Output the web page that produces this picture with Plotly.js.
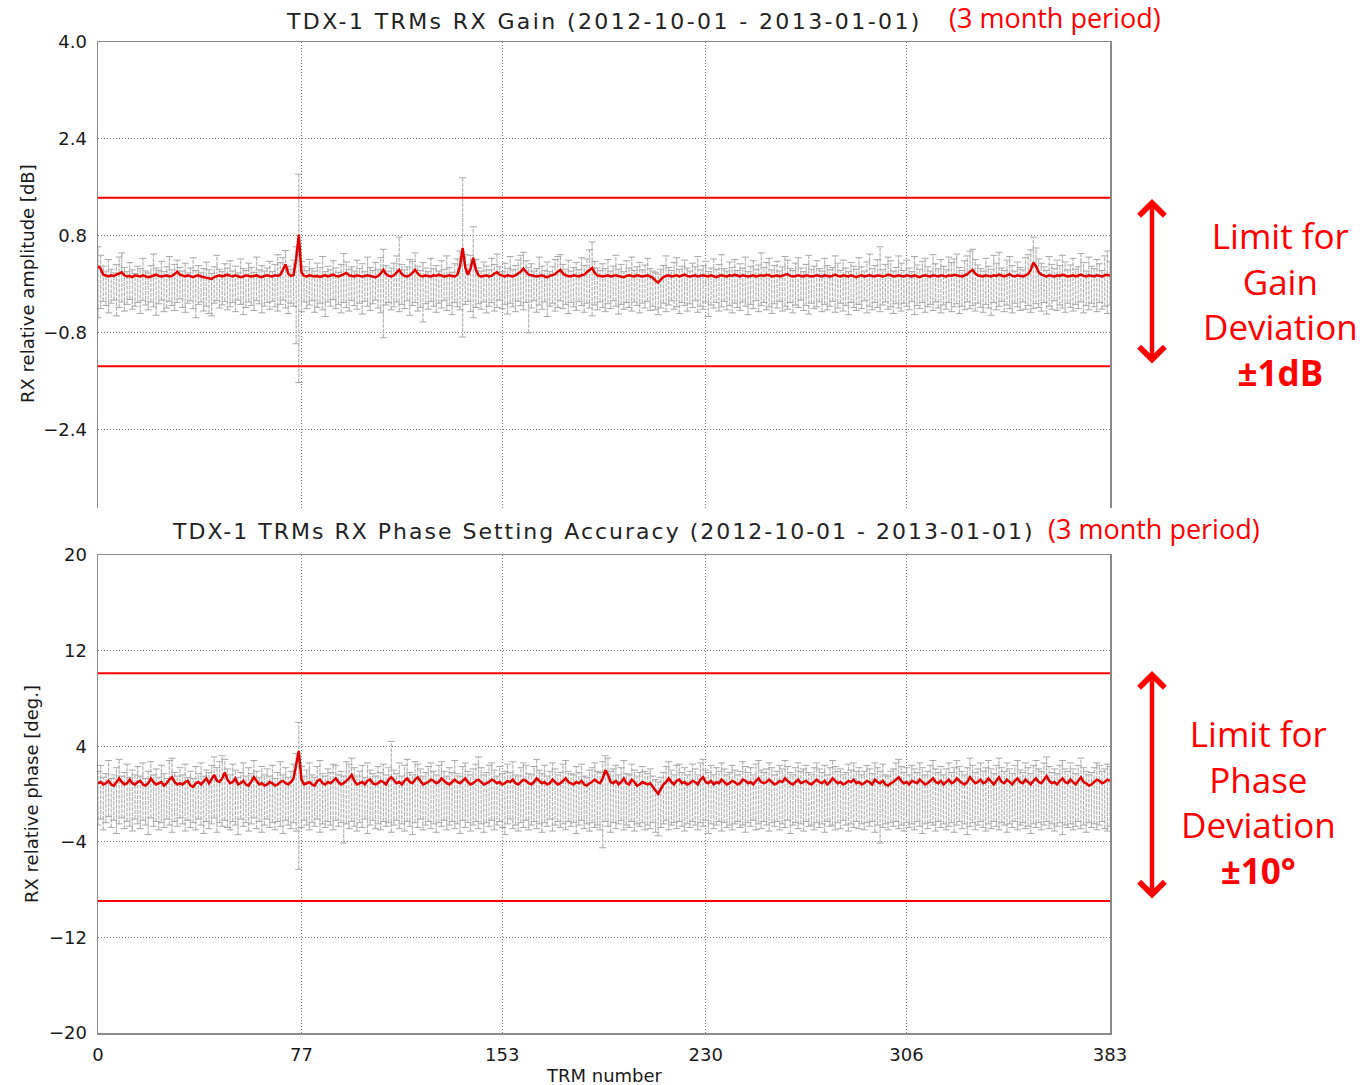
<!DOCTYPE html>
<html><head><meta charset="utf-8">
<script src="https://cdn.plot.ly/plotly-3.0.1.min.js"></script>
<style>
html,body{margin:0;padding:0;background:#fff;}
#chart{width:1360px;height:1085px;}
text.annotation-text[style*="rgb(34, 34, 34)"]{letter-spacing:2.4px;}
text.annotation-text[style*="rgb(35, 35, 35)"]{letter-spacing:2.0px;}
</style></head><body><div id="chart"></div>
<script>
const trmTicks=[0,77,153,230,306,383];
const gainTicks=[4.0,2.4,0.8,-0.8,-2.4];
const gainTickText=["4.0","2.4","0.8","−0.8","−2.4"];
const phaseTicks=[20,12,4,-4,-12,-20];
const phaseTickText=["20","12","4","−4","−12","−20"];
const gainLimits=[1.43,-1.35];
const phaseLimits=[10.1,-8.95];

const gainMean=[
0.30,0.26,0.16,0.14,0.13,0.15,0.14,0.16,0.18,0.20,0.15,0.13,0.14,0.12,0.15,0.14,
0.13,0.15,0.14,0.12,0.13,0.15,0.16,0.14,0.13,0.14,0.15,0.13,0.14,0.17,0.21,0.16,
0.14,0.13,0.15,0.14,0.12,0.14,0.15,0.13,0.12,0.11,0.10,0.09,0.12,0.14,0.15,0.13,
0.14,0.16,0.14,0.13,0.15,0.14,0.12,0.13,0.15,0.14,0.13,0.14,0.15,0.13,0.12,0.14,
0.15,0.14,0.13,0.15,0.14,0.16,0.24,0.33,0.18,0.14,0.15,0.42,0.82,0.20,0.14,0.13,
0.15,0.14,0.13,0.14,0.12,0.14,0.15,0.13,0.14,0.16,0.14,0.13,0.15,0.17,0.19,0.15,
0.14,0.13,0.15,0.14,0.13,0.14,0.15,0.14,0.13,0.12,0.14,0.18,0.24,0.17,0.14,0.13,
0.15,0.19,0.24,0.17,0.14,0.13,0.15,0.19,0.24,0.18,0.14,0.13,0.15,0.14,0.13,0.15,
0.14,0.16,0.15,0.13,0.14,0.15,0.14,0.13,0.16,0.30,0.60,0.28,0.16,0.26,0.44,0.24,
0.15,0.13,0.14,0.15,0.13,0.14,0.18,0.20,0.16,0.14,0.13,0.15,0.14,0.13,0.15,0.18,
0.21,0.26,0.20,0.16,0.15,0.14,0.13,0.14,0.15,0.13,0.12,0.14,0.15,0.17,0.21,0.24,
0.18,0.15,0.14,0.13,0.15,0.14,0.13,0.15,0.16,0.20,0.24,0.27,0.19,0.15,0.14,0.13,
0.14,0.15,0.13,0.14,0.15,0.14,0.13,0.12,0.14,0.15,0.14,0.13,0.15,0.14,0.13,0.14,
0.15,0.13,0.11,0.06,0.03,0.08,0.12,0.14,0.15,0.13,0.14,0.15,0.13,0.14,0.16,0.14,
0.13,0.14,0.15,0.13,0.14,0.15,0.14,0.13,0.15,0.14,0.12,0.14,0.15,0.14,0.13,0.15,
0.14,0.16,0.14,0.13,0.15,0.14,0.13,0.14,0.15,0.13,0.14,0.15,0.14,0.16,0.15,0.13,
0.14,0.15,0.13,0.14,0.15,0.17,0.14,0.13,0.14,0.15,0.14,0.13,0.15,0.14,0.13,0.14,
0.15,0.14,0.13,0.15,0.14,0.13,0.14,0.16,0.14,0.13,0.15,0.14,0.13,0.15,0.14,0.12,
0.14,0.15,0.13,0.14,0.15,0.14,0.13,0.15,0.14,0.13,0.14,0.16,0.15,0.13,0.14,0.15,
0.14,0.13,0.15,0.14,0.13,0.15,0.14,0.12,0.14,0.15,0.14,0.13,0.15,0.14,0.13,0.15,
0.14,0.13,0.15,0.14,0.16,0.15,0.14,0.13,0.15,0.17,0.21,0.24,0.18,0.15,0.14,0.13,
0.15,0.14,0.13,0.15,0.14,0.16,0.14,0.13,0.15,0.17,0.14,0.13,0.15,0.14,0.13,0.15,
0.17,0.24,0.36,0.30,0.20,0.16,0.14,0.13,0.15,0.14,0.13,0.15,0.14,0.16,0.15,0.13,
0.14,0.15,0.13,0.14,0.16,0.14,0.13,0.15,0.14,0.13,0.15,0.14,0.13,0.15,0.16,0.14];

const gainHi=[
0.62,0.48,0.30,0.22,0.41,0.25,0.19,0.33,0.45,0.52,0.28,0.21,0.36,0.24,0.18,0.30,
0.26,0.43,0.22,0.19,0.31,0.50,0.27,0.23,0.38,0.21,0.29,0.46,0.24,0.33,0.40,0.28,
0.22,0.35,0.19,0.27,0.44,0.23,0.31,0.20,0.26,0.37,0.24,0.18,0.29,0.48,0.25,0.21,
0.34,0.27,0.39,0.22,0.30,0.19,0.42,0.26,0.23,0.35,0.28,0.20,0.45,0.24,0.31,0.22,
0.27,0.38,0.21,0.33,0.49,0.36,0.44,0.56,0.30,0.25,0.40,0.62,1.82,0.38,0.29,0.23,
0.41,0.26,0.22,0.35,0.28,0.46,0.21,0.30,0.24,0.39,0.27,0.20,0.33,0.51,0.37,0.25,
0.29,0.22,0.40,0.26,0.34,0.21,0.45,0.28,0.23,0.36,0.25,0.44,0.58,0.31,0.22,0.27,
0.35,0.47,0.78,0.33,0.24,0.29,0.41,0.38,0.52,0.30,0.23,0.36,0.27,0.21,0.43,0.26,
0.31,0.22,0.39,0.25,0.47,0.28,0.20,0.34,0.42,0.55,1.76,0.49,0.32,0.48,0.95,0.41,
0.27,0.22,0.37,0.30,0.24,0.43,0.33,0.50,0.29,0.21,0.35,0.26,0.46,0.24,0.31,0.40,
0.48,0.53,0.39,0.28,0.34,0.22,0.26,0.45,0.30,0.23,0.37,0.21,0.29,0.41,0.46,0.49,
0.33,0.25,0.40,0.22,0.28,0.36,0.24,0.44,0.31,0.42,0.57,0.70,0.38,0.27,0.23,0.34,
0.26,0.41,0.22,0.30,0.48,0.25,0.33,0.21,0.39,0.27,0.45,0.23,0.29,0.36,0.24,0.32,
0.43,0.26,0.22,0.20,0.17,0.25,0.31,0.47,0.28,0.23,0.36,0.44,0.25,0.30,0.40,0.27,
0.22,0.35,0.29,0.46,0.24,0.31,0.38,0.21,0.27,0.42,0.25,0.33,0.49,0.26,0.22,0.37,
0.28,0.41,0.23,0.34,0.27,0.45,0.21,0.30,0.39,0.25,0.32,0.52,0.28,0.36,0.43,0.24,
0.31,0.38,0.22,0.29,0.46,0.40,0.26,0.23,0.35,0.44,0.27,0.21,0.33,0.48,0.25,0.30,
0.39,0.26,0.22,0.43,0.31,0.24,0.28,0.47,0.35,0.23,0.40,0.27,0.21,0.36,0.30,0.25,
0.44,0.29,0.22,0.37,0.50,0.26,0.31,0.41,0.62,0.24,0.33,0.45,0.39,0.22,0.28,0.47,
0.35,0.23,0.40,0.27,0.21,0.46,0.32,0.25,0.38,0.43,0.29,0.22,0.49,0.34,0.26,0.41,
0.30,0.24,0.45,0.36,0.42,0.50,0.28,0.23,0.39,0.47,0.55,0.58,0.41,0.32,0.26,0.22,
0.43,0.30,0.25,0.48,0.35,0.53,0.27,0.23,0.40,0.46,0.31,0.22,0.37,0.28,0.24,0.44,
0.49,0.57,0.78,0.60,0.42,0.35,0.29,0.23,0.46,0.33,0.26,0.40,0.31,0.48,0.37,0.24,
0.32,0.43,0.25,0.29,0.51,0.36,0.22,0.45,0.30,0.26,0.41,0.34,0.23,0.47,0.55,0.38];

const gainLo=[
-0.55,-0.40,-0.28,-0.35,-0.47,-0.31,-0.26,-0.52,-0.38,-0.29,-0.44,-0.33,-0.25,-0.41,-0.36,-0.30,
-0.48,-0.27,-0.34,-0.42,-0.29,-0.37,-0.51,-0.32,-0.26,-0.45,-0.39,-0.28,-0.35,-0.43,-0.30,-0.24,
-0.38,-0.46,-0.31,-0.27,-0.40,-0.55,-0.33,-0.29,-0.44,-0.36,-0.48,-0.52,-0.31,-0.27,-0.39,-0.34,
-0.28,-0.42,-0.37,-0.30,-0.45,-0.26,-0.33,-0.50,-0.38,-0.29,-0.35,-0.43,-0.27,-0.32,-0.47,-0.36,
-0.30,-0.41,-0.28,-0.37,-0.44,-0.33,-0.26,-0.39,-0.48,-0.31,-0.36,-0.98,-1.62,-0.45,-0.29,-0.40,
-0.34,-0.27,-0.46,-0.38,-0.31,-0.42,-0.53,-0.29,-0.36,-0.25,-0.40,-0.33,-0.47,-0.30,-0.38,-0.44,
-0.27,-0.35,-0.41,-0.31,-0.49,-0.28,-0.36,-0.43,-0.32,-0.26,-0.39,-0.47,-0.88,-0.34,-0.30,-0.42,
-0.37,-0.29,-0.45,-0.33,-0.40,-0.27,-0.51,-0.35,-0.30,-0.44,-0.38,-0.62,-0.32,-0.41,-0.28,-0.36,
-0.46,-0.31,-0.39,-0.27,-0.43,-0.35,-0.50,-0.30,-0.37,-0.42,-0.87,-0.33,-0.28,-0.45,-0.55,-0.38,
-0.32,-0.41,-0.29,-0.47,-0.36,-0.30,-0.44,-0.38,-0.26,-0.40,-0.33,-0.49,-0.31,-0.37,-0.45,-0.28,
-0.35,-0.42,-0.30,-0.80,-0.39,-0.27,-0.46,-0.34,-0.41,-0.29,-0.53,-0.36,-0.31,-0.44,-0.38,-0.27,
-0.40,-0.33,-0.48,-0.30,-0.37,-0.43,-0.28,-0.35,-0.46,-0.31,-0.39,-0.52,-0.34,-0.42,-0.29,-0.38,
-0.45,-0.32,-0.40,-0.27,-0.36,-0.49,-0.33,-0.41,-0.30,-0.38,-0.44,-0.29,-0.35,-0.47,-0.31,-0.39,
-0.28,-0.43,-0.36,-0.42,-0.50,-0.39,-0.31,-0.45,-0.34,-0.27,-0.41,-0.37,-0.48,-0.30,-0.35,-0.44,
-0.32,-0.38,-0.27,-0.46,-0.36,-0.41,-0.29,-0.53,-0.34,-0.39,-0.30,-0.44,-0.37,-0.28,-0.42,-0.35,
-0.47,-0.31,-0.38,-0.43,-0.29,-0.36,-0.50,-0.33,-0.40,-0.27,-0.45,-0.35,-0.30,-0.42,-0.37,-0.48,
-0.32,-0.39,-0.28,-0.44,-0.36,-0.41,-0.30,-0.47,-0.34,-0.38,-0.26,-0.43,-0.35,-0.49,-0.31,-0.40,
-0.37,-0.29,-0.45,-0.33,-0.42,-0.36,-0.28,-0.46,-0.39,-0.31,-0.44,-0.35,-0.50,-0.30,-0.38,-0.43,
-0.33,-0.40,-0.27,-0.47,-0.36,-0.42,-0.30,-0.38,-0.45,-0.34,-0.29,-0.41,-0.37,-0.48,-0.32,-0.39,
-0.44,-0.31,-0.36,-0.42,-0.28,-0.50,-0.35,-0.40,-0.30,-0.46,-0.37,-0.33,-0.43,-0.29,-0.39,-0.47,
-0.34,-0.41,-0.30,-0.45,-0.37,-0.32,-0.48,-0.36,-0.42,-0.29,-0.40,-0.35,-0.44,-0.31,-0.38,-0.46,
-0.33,-0.39,-0.51,-0.30,-0.42,-0.36,-0.28,-0.45,-0.34,-0.40,-0.47,-0.31,-0.37,-0.43,-0.29,-0.41,
-0.35,-0.46,-0.40,-0.32,-0.38,-0.44,-0.30,-0.49,-0.36,-0.41,-0.27,-0.43,-0.34,-0.39,-0.46,-0.31,
-0.38,-0.44,-0.33,-0.40,-0.29,-0.47,-0.35,-0.42,-0.31,-0.37,-0.45,-0.30,-0.41,-0.36,-0.48,-0.34];

const phaseMean=[
0.9,1.0,0.8,0.9,1.1,0.8,0.7,1.0,1.3,1.0,0.8,0.9,1.2,0.9,0.8,1.0,
1.1,0.8,0.7,0.9,1.3,1.0,0.8,0.9,1.0,0.7,0.9,1.2,1.4,1.0,0.8,0.9,
0.8,1.0,1.1,0.7,0.6,0.9,1.0,0.8,1.1,1.3,0.9,1.2,1.6,1.1,1.0,1.3,
1.8,1.2,0.9,1.0,1.3,0.8,0.9,1.1,0.8,0.7,1.0,1.4,1.1,0.8,0.9,0.7,
0.8,1.0,0.9,0.7,0.8,1.0,1.1,0.9,0.8,1.0,1.3,2.6,3.6,1.2,0.8,0.9,
1.0,0.8,0.7,1.1,1.2,0.9,0.8,1.0,0.9,1.1,1.3,1.0,0.8,0.9,1.1,1.3,
1.6,1.1,0.8,0.9,1.0,0.8,1.1,1.2,0.9,0.8,0.9,1.1,1.0,0.8,1.2,1.4,
1.1,0.9,1.0,0.8,1.1,1.3,1.0,0.9,1.2,1.4,1.1,0.8,0.9,1.0,1.2,1.1,
0.9,1.0,1.3,1.1,0.9,0.8,1.0,1.2,1.0,0.9,1.1,1.3,1.0,0.8,0.9,1.1,
1.2,1.0,0.8,0.9,1.0,1.2,1.1,0.9,1.0,0.8,0.9,1.1,1.0,1.2,0.9,0.8,
1.0,1.2,1.1,0.9,0.8,1.0,1.3,1.1,0.9,1.0,0.8,0.9,1.2,1.0,0.8,0.9,
1.1,1.3,1.0,0.9,0.8,1.0,0.9,1.1,0.8,0.7,0.9,1.0,1.2,1.0,0.9,1.3,
2.0,1.6,1.0,0.9,1.1,0.8,1.0,1.3,0.9,0.8,1.2,1.0,0.7,0.8,1.0,0.9,
0.8,0.9,0.6,0.3,0.0,0.4,0.8,1.0,1.3,1.0,0.8,1.1,1.2,0.9,1.0,0.8,
0.9,1.1,1.0,0.8,1.2,1.4,1.0,0.9,1.1,0.8,1.0,0.9,1.2,1.0,0.8,0.9,
1.1,1.0,0.8,0.9,1.2,1.1,0.9,1.0,0.8,1.1,1.3,1.0,0.9,1.0,1.2,1.0,
0.8,0.9,1.1,1.0,1.3,1.1,0.9,0.8,1.0,1.2,0.9,1.0,1.1,0.9,0.8,1.0,
1.2,1.0,0.9,1.1,0.8,1.0,1.3,1.1,0.9,1.0,0.8,0.9,1.1,1.0,1.2,0.9,
1.0,0.8,0.9,1.1,1.0,0.8,1.2,1.0,0.9,1.1,0.8,0.7,0.9,1.0,1.2,1.4,
1.1,0.9,1.0,0.8,1.1,1.0,0.9,1.2,1.0,0.8,0.9,1.1,1.3,1.0,0.9,1.1,
0.8,1.0,1.2,0.9,1.0,1.3,1.1,0.9,0.8,1.0,1.4,1.1,0.9,1.0,1.2,0.9,
1.0,1.3,1.0,0.8,1.1,1.4,1.0,0.9,1.2,1.0,0.8,1.1,1.3,1.0,0.9,1.2,
1.0,0.8,1.1,1.3,1.0,0.9,1.2,1.5,1.1,0.9,1.0,0.8,1.1,1.3,1.0,0.9,
1.2,1.0,0.8,1.1,1.4,1.0,0.9,0.7,0.8,1.0,1.2,1.1,0.9,1.0,1.2,1.1];

const phaseHi=[
1.9,2.4,1.4,1.7,2.8,1.3,1.6,2.2,2.9,1.5,1.8,2.5,1.4,2.0,1.6,2.3,
1.5,2.6,1.3,1.9,2.7,1.6,2.1,1.4,2.4,1.7,1.3,2.8,3.0,1.8,1.5,2.2,
1.6,2.5,1.4,1.9,1.3,2.3,1.7,2.6,1.5,2.0,1.8,2.4,3.1,2.2,2.7,3.2,
2.9,2.1,1.6,2.5,2.0,1.4,1.8,2.6,1.5,2.2,1.7,2.8,1.9,1.4,2.3,1.6,
2.1,1.5,2.4,1.3,1.8,2.7,1.6,2.2,1.4,1.9,2.5,3.4,6.0,2.3,1.5,2.0,
2.6,1.6,1.4,2.3,2.8,1.7,1.5,2.1,1.8,2.5,2.4,1.6,1.9,1.5,2.7,2.5,
3.0,2.2,1.5,1.9,2.4,1.4,2.6,2.0,1.7,1.5,2.3,1.8,2.5,1.6,2.2,4.4,
2.0,1.7,2.6,1.5,2.4,2.9,1.8,1.6,2.7,2.5,2.1,1.5,1.8,2.3,2.6,1.9,
1.6,2.4,2.7,1.9,1.5,2.2,1.8,2.8,1.7,1.5,2.3,2.6,1.9,1.6,2.1,2.5,
3.1,2.2,1.6,1.8,2.4,2.6,2.0,1.5,2.3,1.7,1.9,2.5,1.8,2.7,1.6,1.5,
2.2,2.6,2.4,1.7,1.6,2.3,2.9,2.0,1.7,2.4,1.5,1.9,2.6,2.1,1.6,1.8,
2.5,2.8,1.9,1.7,1.6,2.3,1.8,2.5,1.5,1.4,2.0,2.2,2.6,1.9,1.8,2.7,
3.2,3.0,1.9,2.1,2.4,1.6,2.2,2.8,1.7,1.6,2.5,2.0,1.5,1.8,2.3,1.9,
1.7,2.1,1.5,1.2,1.0,1.4,1.8,2.3,2.7,2.0,1.6,2.4,2.5,1.8,2.2,1.6,
1.9,2.5,2.1,1.6,2.6,2.9,2.0,1.8,2.4,1.6,2.2,1.9,2.6,2.1,1.6,1.8,
2.4,2.0,1.6,1.9,2.7,2.3,1.8,2.2,1.6,2.5,2.8,2.0,1.8,2.1,2.6,2.2,
1.6,1.9,2.4,2.1,2.8,2.3,1.8,1.6,2.2,2.6,1.9,2.1,2.4,1.8,1.6,2.2,
2.6,2.1,1.8,2.4,1.6,2.2,2.8,2.3,1.9,2.1,1.6,1.8,2.5,2.0,2.6,1.9,
2.2,1.6,1.9,2.4,2.1,1.7,2.6,2.2,1.9,2.5,1.6,1.5,1.9,2.1,2.6,2.9,
2.3,1.8,2.2,1.6,2.4,2.1,1.8,2.6,2.2,1.6,1.9,2.4,2.8,2.1,1.8,2.3,
1.6,2.1,2.6,1.8,2.2,2.8,2.3,1.9,1.6,2.2,3.0,2.4,1.8,2.1,2.6,1.9,
2.2,2.8,2.1,1.7,2.4,3.0,2.2,1.9,2.6,2.1,1.7,2.4,2.8,2.0,1.8,2.6,
2.2,1.7,2.4,2.8,2.1,1.9,2.6,3.1,2.3,1.8,2.1,1.7,2.4,2.8,2.1,1.9,
2.6,2.1,1.7,2.4,3.0,2.2,1.9,1.6,1.8,2.2,2.6,2.4,1.9,2.1,2.5,2.3];

const phaseLo=[
-2.6,-2.1,-3.0,-2.4,-1.9,-2.8,-2.2,-3.3,-2.5,-2.0,-2.9,-2.3,-2.7,-3.1,-2.1,-2.5,
-2.9,-2.2,-2.6,-3.4,-2.0,-2.7,-2.3,-3.0,-2.4,-2.8,-2.1,-2.6,-3.2,-2.3,-2.7,-2.0,
-2.5,-3.1,-2.2,-2.8,-2.4,-3.0,-2.1,-2.6,-3.3,-2.3,-2.9,-2.5,-2.0,-3.2,-2.4,-2.7,
-2.2,-2.8,-3.0,-2.3,-2.6,-3.4,-2.1,-2.7,-2.4,-3.1,-2.5,-2.0,-2.9,-2.3,-3.2,-2.6,
-2.1,-2.8,-2.4,-3.0,-2.3,-2.7,-3.3,-2.2,-2.6,-2.9,-2.4,-3.1,-6.3,-2.8,-2.2,-2.6,
-3.0,-2.4,-2.7,-2.1,-3.2,-2.5,-2.8,-2.3,-2.6,-3.0,-2.2,-2.7,-2.4,-4.1,-2.5,-2.9,
-2.3,-2.7,-3.1,-2.4,-2.8,-2.1,-3.3,-2.6,-2.2,-2.9,-2.5,-3.0,-2.3,-2.7,-2.4,-3.2,
-2.6,-2.2,-2.9,-2.5,-3.1,-2.3,-2.7,-3.4,-2.4,-2.8,-2.1,-3.0,-2.6,-2.3,-2.9,-2.5,
-3.2,-2.4,-2.7,-2.2,-3.0,-2.6,-2.3,-2.9,-2.5,-3.3,-2.2,-2.8,-2.4,-3.1,-2.6,-2.3,
-2.9,-2.5,-3.2,-2.4,-2.7,-2.2,-3.0,-2.6,-2.3,-2.8,-3.4,-2.5,-2.1,-2.9,-2.6,-3.1,
-2.4,-2.8,-2.2,-3.0,-2.6,-2.3,-2.9,-2.5,-3.2,-2.4,-2.7,-2.1,-3.1,-2.6,-2.3,-2.8,
-2.5,-3.0,-2.3,-2.7,-2.4,-3.3,-2.6,-2.2,-2.9,-2.5,-3.1,-2.4,-2.8,-2.6,-3.0,-4.5,
-2.3,-2.7,-3.2,-2.4,-2.9,-2.5,-2.2,-3.0,-2.6,-2.8,-2.3,-3.1,-2.5,-2.7,-2.4,-3.0,
-2.6,-2.9,-2.4,-3.2,-3.5,-2.8,-2.5,-2.2,-3.0,-2.6,-2.4,-2.9,-2.3,-2.7,-3.1,-2.5,
-2.8,-2.3,-2.6,-3.0,-2.4,-2.7,-2.2,-3.3,-2.5,-2.9,-2.6,-2.3,-3.1,-2.4,-2.8,-2.6,
-3.0,-2.5,-2.3,-2.8,-2.6,-3.2,-2.4,-2.7,-2.2,-3.0,-2.5,-2.9,-2.3,-2.6,-3.1,-2.4,
-2.7,-2.3,-3.0,-2.5,-2.8,-2.2,-3.3,-2.6,-2.4,-2.9,-2.5,-3.1,-2.3,-2.7,-2.6,-3.0,
-2.4,-2.8,-2.5,-3.2,-2.3,-2.7,-2.6,-3.0,-2.4,-2.9,-2.2,-2.6,-3.1,-2.5,-2.8,-2.3,
-2.9,-2.5,-3.0,-2.4,-2.7,-2.3,-3.2,-2.6,-4.1,-2.8,-2.5,-3.0,-2.4,-2.7,-2.3,-2.9,
-2.6,-3.1,-2.4,-2.8,-2.5,-3.0,-2.3,-2.7,-3.3,-2.5,-2.9,-2.4,-2.6,-3.1,-2.3,-2.8,
-2.5,-3.0,-2.7,-2.4,-3.2,-2.6,-2.3,-2.9,-2.5,-3.4,-2.7,-2.4,-3.0,-2.6,-2.3,-2.8,
-3.1,-2.5,-2.9,-2.3,-2.7,-3.0,-2.4,-2.6,-3.2,-2.5,-2.8,-2.3,-3.0,-2.6,-2.4,-2.9,
-2.7,-3.3,-2.5,-2.8,-2.4,-3.0,-2.6,-2.3,-2.9,-2.5,-3.1,-2.7,-2.4,-3.4,-2.6,-2.8,
-2.5,-3.0,-2.7,-2.3,-2.9,-2.6,-3.2,-2.4,-2.8,-2.5,-3.0,-2.6,-2.3,-2.9,-3.1,-2.7];

const W=1360,H=1085;
const px=v=>v/W, py=v=>1-v/H;
const GREY='#b4b4b4', CAP='#a8a8a8', MEANRED='#e00000', LIMRED='#ff0000';

function rangeTraces(lo,hi,mean,xa,ya){
  const x=[],y=[],cx=[],cy=[],mx=[];
  for(let i=0;i<mean.length;i++){
    x.push(i,i,null); y.push(lo[i],hi[i],null);
    cx.push(i,i); cy.push(lo[i],hi[i]); mx.push(i);
  }
  return [
    {type:'scatter',mode:'lines',x:x,y:y,xaxis:xa,yaxis:ya,connectgaps:false,
     line:{color:GREY,width:1.2,dash:'4px,1px'},hoverinfo:'skip'},
    {type:'scatter',mode:'markers',x:cx,y:cy,xaxis:xa,yaxis:ya,
     marker:{symbol:'line-ew',size:5,color:CAP,line:{width:1,color:CAP}},hoverinfo:'skip'},
    {type:'scatter',mode:'lines',x:mx,y:mean,xaxis:xa,yaxis:ya,
     line:{color:MEANRED,width:2.5}}
  ];
}

const data=[].concat(
  rangeTraces(gainLo,gainHi,gainMean,'x','y'),
  rangeTraces(phaseLo,phaseHi,phaseMean,'x2','y2')
);

const tickFont={family:'DejaVu Sans',size:18,color:'#1a1a1a'};
const axCommon={showline:true,linecolor:'#8a8a8a',linewidth:1.5,mirror:true,ticks:'',
  showgrid:true,gridcolor:'#7a7a7a',griddash:'1px,2px',gridwidth:1,zeroline:false,tickfont:tickFont,fixedrange:true};
const xDom=[px(98),px(1110)];
const xr=[trmTicks[0],trmTicks[trmTicks.length-1]];

const shapes=[];
gainLimits.forEach(v=>shapes.push({type:'line',xref:'x',yref:'y',x0:xr[0],x1:xr[1],y0:v,y1:v,line:{color:LIMRED,width:2}}));
phaseLimits.forEach(v=>shapes.push({type:'line',xref:'x2',yref:'y2',x0:xr[0],x1:xr[1],y0:v,y1:v,line:{color:LIMRED,width:2}}));

const titleFont1={family:'DejaVu Sans',size:22,color:'#222222'};
const titleFont2={family:'DejaVu Sans',size:22,color:'#232323'};
const axTitleFont={family:'DejaVu Sans',size:18,color:'#1a1a1a'};
const redFont={family:'Open Sans, Noto Sans, sans-serif',size:27,color:LIMRED};
const bigRed={family:'Open Sans, Noto Sans, sans-serif',size:35,color:LIMRED};

const annotations=[
 {xref:'paper',yref:'paper',x:px(604),y:py(22),text:'TDX-1 TRMs RX Gain (2012-10-01 - 2013-01-01)',showarrow:false,font:titleFont1,xanchor:'center',yanchor:'middle'},
 {xref:'paper',yref:'paper',x:px(603),y:py(532),text:'TDX-1 TRMs RX Phase Setting Accuracy (2012-10-01 - 2013-01-01)',showarrow:false,font:titleFont2,xanchor:'center',yanchor:'middle'},
 {xref:'paper',yref:'paper',x:px(27),y:py(284),text:'RX relative amplitude [dB]',textangle:-90,showarrow:false,font:axTitleFont,xanchor:'center',yanchor:'middle'},
 {xref:'paper',yref:'paper',x:px(31),y:py(794),text:'RX relative phase [deg.]',textangle:-90,showarrow:false,font:axTitleFont,xanchor:'center',yanchor:'middle'},
 {xref:'paper',yref:'paper',x:px(604),y:py(1075),text:'TRM number',showarrow:false,font:axTitleFont,xanchor:'center',yanchor:'middle'},
 {xref:'paper',yref:'paper',x:px(1055),y:py(18),text:'(3 month period)',showarrow:false,font:redFont,xanchor:'center',yanchor:'middle'},
 {xref:'paper',yref:'paper',x:px(1154),y:py(528),text:'(3 month period)',showarrow:false,font:redFont,xanchor:'center',yanchor:'middle'},
 {xref:'paper',yref:'paper',x:px(1280),y:py(304),text:'Limit for<br>Gain<br>Deviation<br><b>±1dB</b>',showarrow:false,font:bigRed,xanchor:'center',yanchor:'middle',align:'center'},
 {xref:'paper',yref:'paper',x:px(1258),y:py(802),text:'Limit for<br>Phase<br>Deviation<br><b>±10°</b>',showarrow:false,font:bigRed,xanchor:'center',yanchor:'middle',align:'center'},
 {xref:'paper',yref:'paper',x:px(1152),y:py(199),axref:'pixel',ayref:'pixel',ax:0,ay:166,text:'',showarrow:true,
  arrowside:'end+start',arrowhead:4,startarrowhead:4,arrowsize:1.1,startarrowsize:1.1,arrowwidth:4.5,arrowcolor:LIMRED,standoff:0,startstandoff:0},
 {xref:'paper',yref:'paper',x:px(1152),y:py(671),axref:'pixel',ayref:'pixel',ax:0,ay:229,text:'',showarrow:true,
  arrowside:'end+start',arrowhead:4,startarrowhead:4,arrowsize:1.1,startarrowsize:1.1,arrowwidth:4.5,arrowcolor:LIMRED,standoff:0,startstandoff:0}
];

const layout={
  width:W,height:H,margin:{l:0,r:0,t:0,b:0},paper_bgcolor:'#fff',plot_bgcolor:'#fff',showlegend:false,
  xaxis:Object.assign({},axCommon,{domain:xDom,range:xr,anchor:'y',side:'top',tickvals:trmTicks.slice(1,-1),showticklabels:false,mirror:false}),
  yaxis:Object.assign({},axCommon,{domain:[py(508),py(42)],range:[-3.69,4.0],anchor:'x',tickvals:gainTicks,ticktext:gainTickText,ticklabelstandoff:6}),
  xaxis2:Object.assign({},axCommon,{domain:xDom,range:xr,anchor:'y2',tickvals:trmTicks,ticktext:trmTicks.map(String),ticklabelstandoff:5}),
  yaxis2:Object.assign({},axCommon,{domain:[py(1033),py(555)],range:[-20,20],anchor:'x2',tickvals:phaseTicks,ticktext:phaseTickText,ticklabelstandoff:6}),
  shapes:shapes,annotations:annotations,hovermode:false
};

Plotly.newPlot('chart',data,layout,{displayModeBar:false,staticPlot:true});
</script></body></html>
